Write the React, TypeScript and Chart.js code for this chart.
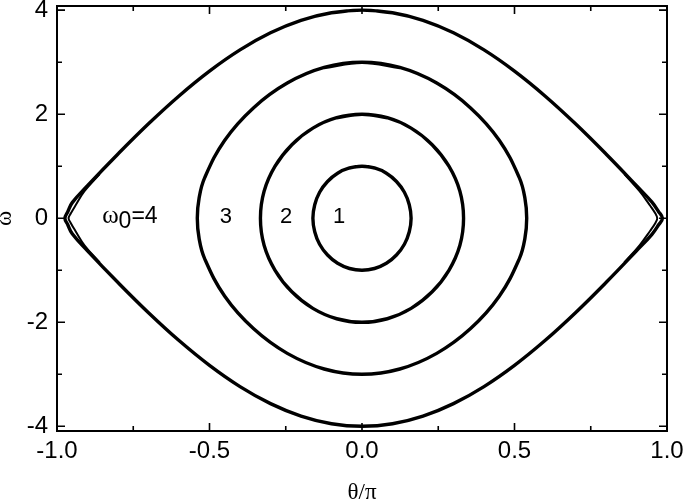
import React, { useEffect, useRef } from "react";
import { Chart, registerables } from "chart.js";

Chart.register(...registerables);

// Axis ticks
const X_TICKS = [-1, -0.5, 0, 0.5, 1];
const X_TICK_LABELS = ["-1.0", "-0.5", "0.0", "0.5", "1.0"];
const X_MINOR = [-0.75, -0.25, 0.25, 0.75];
const Y_TICKS = [-4, -2, 0, 2, 4];
const Y_TICK_LABELS = ["-4", "-2", "0", "2", "4"];
const Y_MINOR = [-3, -1, 1, 3];

// Orbit ω0 = 1 (closed loop, first/last point overlap to close smoothly)
const C1_X = [-0.041, 0, 0.041, 0.080, 0.113, 0.139, 0.155, 0.161, 0.155, 0.139, 0.113, 0.080, 0.041, 0, -0.041, -0.080, -0.113, -0.139, -0.155, -0.161, -0.155, -0.139, -0.113, -0.080, -0.041, 0, 0.041];
const C1_Y = [0.966, 1, 0.966, 0.866, 0.707, 0.5, 0.259, 0, -0.259, -0.5, -0.707, -0.866, -0.966, -1, -0.966, -0.866, -0.707, -0.5, -0.259, 0, 0.259, 0.5, 0.707, 0.866, 0.966, 1, 0.966];

// Orbit ω0 = 2
const C2_X = [-0.083, 0, 0.083, 0.161, 0.230, 0.285, 0.321, 0.333, 0.321, 0.285, 0.230, 0.161, 0.083, 0, -0.083, -0.161, -0.230, -0.285, -0.321, -0.333, -0.321, -0.285, -0.230, -0.161, -0.083, 0, 0.083];
const C2_Y = [1.932, 2, 1.932, 1.732, 1.414, 1.0, 0.518, 0, -0.518, -1.0, -1.414, -1.732, -1.932, -2, -1.932, -1.732, -1.414, -1.0, -0.518, 0, 0.518, 1.0, 1.414, 1.732, 1.932, 2, 1.932];

// Orbit ω0 = 3
const C3_X = [-0.124, 0, 0.124, 0.245, 0.356, 0.450, 0.516, 0.534, 0.540, 0.534, 0.516, 0.450, 0.356, 0.245, 0.124, 0, -0.124, -0.245, -0.356, -0.450, -0.516, -0.534, -0.540, -0.534, -0.516, -0.450, -0.356, -0.245, -0.124, 0, 0.124];
const C3_Y = [2.898, 3, 2.898, 2.598, 2.121, 1.5, 0.776, 0.392, 0, -0.392, -0.776, -1.5, -2.121, -2.598, -2.898, -3, -2.898, -2.598, -2.121, -1.5, -0.776, -0.392, 0, 0.392, 0.776, 1.5, 2.121, 2.598, 2.898, 3, 2.898];

// Orbit ω0 = 4 (separatrix)
const C4_X = [-0.1, 0, 0.1, 0.2, 0.3, 0.4, 0.5, 0.6, 0.7, 0.8, 0.9, 0.95, 0.972, 0.985, 0.972, 0.95, 0.9, 0.8, 0.7, 0.6, 0.5, 0.4, 0.3, 0.2, 0.1, 0, -0.1, -0.2, -0.3, -0.4, -0.5, -0.6, -0.7, -0.8, -0.9, -0.95, -0.965, -0.974, -0.965, -0.95, -0.9, -0.8, -0.7, -0.6, -0.5, -0.4, -0.3, -0.2, -0.1, 0, 0.1];
const C4_Y = [3.951, 4, 3.951, 3.804, 3.564, 3.236, 2.828, 2.351, 1.816, 1.236, 0.626, 0.314, 0.13, 0, -0.13, -0.314, -0.626, -1.236, -1.816, -2.351, -2.828, -3.236, -3.564, -3.804, -3.951, -4, -3.951, -3.804, -3.564, -3.236, -2.828, -2.351, -1.816, -1.236, -0.626, -0.30, -0.12, 0, 0.12, 0.30, 0.626, 1.236, 1.816, 2.351, 2.828, 3.236, 3.564, 3.804, 3.951, 4, 3.951];

// Extra passes of the separatrix near the saddle points
const R_X = [0.86, 0.91, 0.945, 0.962, 0.968, 0.962, 0.945, 0.91, 0.86];
const R_Y = [0.85, 0.52, 0.24, 0.09, 0, -0.09, -0.24, -0.52, -0.85];
const L_X = [-0.86, -0.91, -0.94, -0.955, -0.962, -0.955, -0.94, -0.91, -0.86];
const L_Y = [0.85, 0.52, 0.24, 0.09, 0, -0.09, -0.24, -0.52, -0.85];

// Curve labels
const LABEL_TEXTS = ["3", "2", "1"];
const LABEL_X = [-0.446, -0.249, -0.075];
const LABEL_Y = [-0.1, -0.1, -0.1];
const OMEGA_LABEL_X = -0.852;
const OMEGA_LABEL_Y = -0.1;

const SANS = "'Liberation Sans', Arial, sans-serif";
const SERIF = "'Liberation Serif', 'Times New Roman', serif";

const pts = (xs: number[], ys: number[]) => xs.map((x, i) => ({ x, y: ys[i] }));

const noPad = (s: any) => {
  s.paddingLeft = 0;
  s.paddingRight = 0;
  s.paddingTop = 0;
  s.paddingBottom = 0;
};

const framePlugin = {
  id: "frameTicks",
  afterDraw(chart: any) {
    const { ctx, chartArea, scales } = chart;
    const { left, right, top, bottom } = chartArea;
    const xs = scales.x;
    const ys = scales.y;
    ctx.save();
    ctx.strokeStyle = "#000";
    ctx.lineWidth = 2;
    ctx.strokeRect(left, top, right - left, bottom - top);
    ctx.lineWidth = 1.6;
    const drawX = (vals: number[], len: number) => {
      vals.forEach((v) => {
        const p = xs.getPixelForValue(v);
        ctx.beginPath();
        ctx.moveTo(p, bottom);
        ctx.lineTo(p, bottom - len);
        ctx.moveTo(p, top);
        ctx.lineTo(p, top + len);
        ctx.stroke();
      });
    };
    const drawY = (vals: number[], len: number) => {
      vals.forEach((v) => {
        const p = ys.getPixelForValue(v);
        ctx.beginPath();
        ctx.moveTo(left, p);
        ctx.lineTo(left + len, p);
        ctx.moveTo(right, p);
        ctx.lineTo(right - len, p);
        ctx.stroke();
      });
    };
    drawX(X_TICKS, 8);
    drawX(X_MINOR, 5);
    drawY(Y_TICKS, 8);
    drawY(Y_MINOR, 5);
    ctx.restore();
  },
};

const labelPlugin = {
  id: "curveLabels",
  afterDatasetsDraw(chart: any) {
    const { ctx, scales } = chart;
    const xs = scales.x;
    const ys = scales.y;
    ctx.save();
    ctx.fillStyle = "#000";
    ctx.textBaseline = "alphabetic";
    ctx.textAlign = "center";
    ctx.font = `22px ${SANS}`;
    LABEL_TEXTS.forEach((t, i) => {
      ctx.fillText(t, xs.getPixelForValue(LABEL_X[i]), ys.getPixelForValue(LABEL_Y[i]));
    });
    // ω0=4
    ctx.textAlign = "left";
    let px = xs.getPixelForValue(OMEGA_LABEL_X);
    const py = ys.getPixelForValue(OMEGA_LABEL_Y);
    ctx.font = `25px ${SERIF}`;
    ctx.fillText("ω", px, py);
    px += ctx.measureText("ω").width;
    ctx.font = `23px ${SANS}`;
    ctx.fillText("0", px, py + 5);
    px += ctx.measureText("0").width;
    ctx.fillText("=4", px, py);
    ctx.restore();
  },
};

export default function App() {
  const ref = useRef<HTMLCanvasElement | null>(null);

  useEffect(() => {
    document.body.style.margin = "0";
    const canvas = ref.current;
    if (!canvas) return;
    const line = (data: any[], width: number) => ({
      data,
      showLine: true,
      borderColor: "#000",
      backgroundColor: "#000",
      borderWidth: width,
      pointRadius: 0,
      pointHoverRadius: 0,
      tension: 0.4,
      fill: false,
    });
    const chart = new Chart(canvas, {
      type: "scatter",
      data: {
        datasets: [
          line(pts(C1_X, C1_Y), 3.4),
          line(pts(C2_X, C2_Y), 3.4),
          line(pts(C3_X, C3_Y), 3.4),
          line(pts(C4_X, C4_Y), 3.4),
          line(pts(R_X, R_Y), 2),
          line(pts(L_X, L_Y), 2),
        ],
      },
      options: {
        responsive: false,
        animation: false,
        devicePixelRatio: 1,
        events: [],
        layout: { padding: { top: 6, right: 18, bottom: 0, left: 0 } },
        plugins: {
          legend: { display: false },
          tooltip: { enabled: false },
        },
        scales: {
          x: {
            type: "linear",
            min: -1,
            max: 1,
            afterBuildTicks: (s: any) => {
              s.ticks = X_TICKS.map((v) => ({ value: v }));
            },
            afterFit: (s: any) => {
              s.height = 68;
              noPad(s);
            },
            grid: { display: false, drawTicks: false },
            border: { display: false },
            ticks: {
              autoSkip: false,
              maxRotation: 0,
              padding: 6,
              color: "#000",
              font: { family: SANS, size: 24 },
              callback: (v: any) => X_TICK_LABELS[X_TICKS.indexOf(Number(v))],
            },
            title: {
              display: true,
              text: "θ/π",
              color: "#000",
              font: { family: SERIF, size: 23 },
              padding: { top: 0, bottom: -8 },
            },
          },
          y: {
            type: "linear",
            min: -4.09,
            max: 4.08,
            afterBuildTicks: (s: any) => {
              s.ticks = Y_TICKS.map((v) => ({ value: v }));
            },
            afterFit: (s: any) => {
              s.width = 57;
              noPad(s);
            },
            grid: { display: false, drawTicks: false },
            border: { display: false },
            ticks: {
              autoSkip: false,
              padding: 9,
              color: "#000",
              font: { family: SANS, size: 24 },
              callback: (v: any) => Y_TICK_LABELS[Y_TICKS.indexOf(Number(v))],
            },
            title: {
              display: true,
              text: "ω",
              color: "#000",
              font: { family: SERIF, size: 23 },
              padding: { top: -9, bottom: 0 },
            },
          },
        },
      },
      plugins: [framePlugin, labelPlugin],
    });
    return () => chart.destroy();
  }, []);

  return (
    <div style={{ position: "absolute", left: 0, top: 0, width: 685, height: 499, background: "#fff" }}>
      <canvas ref={ref} width={685} height={499} style={{ display: "block" }} />
    </div>
  );
}
